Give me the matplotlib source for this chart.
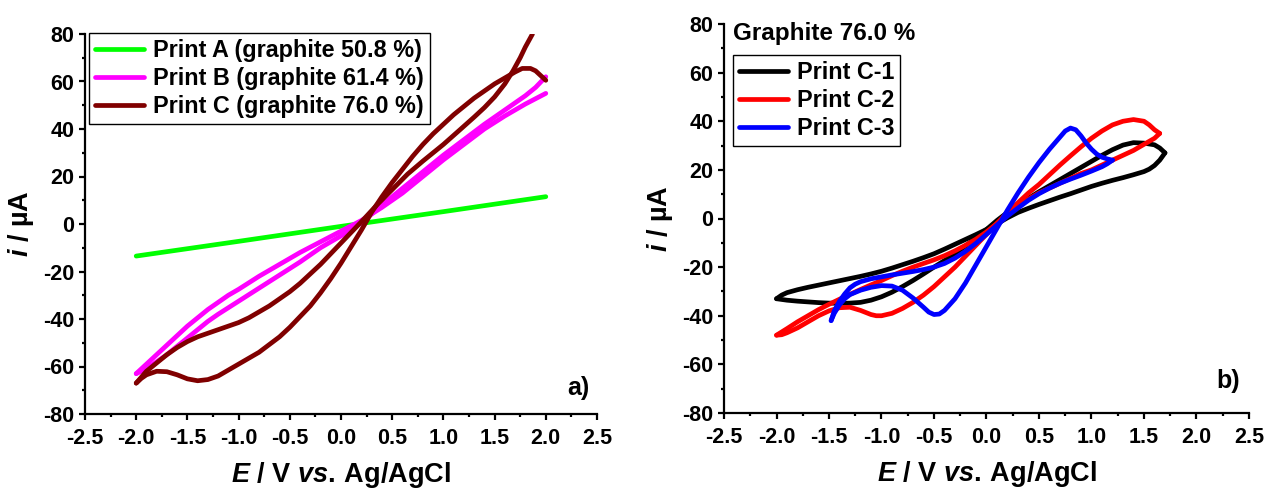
import matplotlib
matplotlib.use("Agg")
import matplotlib.pyplot as plt
from matplotlib.ticker import MultipleLocator, FormatStrFormatter

plt.rcParams['font.family'] = ['Liberation Sans', 'DejaVu Sans']
plt.rcParams['font.weight'] = 'bold'
plt.rcParams['axes.unicode_minus'] = False
plt.rcParams['mathtext.fontset'] = 'custom'
plt.rcParams['mathtext.it'] = 'Liberation Sans:italic:bold'
plt.rcParams['mathtext.rm'] = 'Liberation Sans:bold'
plt.rcParams['mathtext.bf'] = 'Liberation Sans:bold'

# ---------------- Panel a) data ----------------
E_A = [-2.0, -1.0, 0.0, 1.0, 2.0]
i_A = [-13.5, -7.3, -1.0, 5.2, 11.5]

E_B1 = [-2.0, -1.9, -1.8, -1.7, -1.6, -1.5, -1.4, -1.3, -1.2, -1.1, -1.0, -0.8, -0.6, -0.4, -0.2, 0.0,
        0.2, 0.4, 0.6, 0.8, 1.0, 1.2, 1.4, 1.6, 1.8, 2.0]
i_B1 = [-63, -59, -55, -51, -47, -43, -39.5, -36, -33, -30, -27.5, -22, -17, -12, -7.5, -3,
        1.5, 7, 13, 20, 27, 33.5, 40, 45.5, 50.5, 55]
E_B2 = [-2.0, -1.9, -1.8, -1.7, -1.6, -1.5, -1.4, -1.3, -1.2, -1.0, -0.8, -0.6, -0.4, -0.2, 0.0,
        0.2, 0.4, 0.6, 0.8, 1.0, 1.2, 1.4, 1.6, 1.7, 1.8, 1.9, 2.0]
i_B2 = [-63, -61, -58, -55, -51.5, -48, -44.5, -41, -38, -32.5, -27, -21.5, -16, -10, -5,
        0.5, 8, 15, 22, 29, 35.5, 42, 48, 51, 54, 57.5, 62]

E_C1 = [-2.0, -1.95, -1.9, -1.8, -1.7, -1.6, -1.5, -1.4, -1.3, -1.2, -1.1, -1.0, -0.8, -0.6, -0.5,
        -0.4, -0.3, -0.2, -0.1, 0.0, 0.1, 0.2, 0.3, 0.4, 0.5, 0.6, 0.7, 0.8, 0.9, 1.0, 1.1, 1.2,
        1.3, 1.4, 1.5, 1.6, 1.7, 1.77, 1.85, 1.9, 1.95, 2.0]
i_C1 = [-67, -65, -63.5, -62, -62.2, -63.5, -65.2, -66, -65.5, -64, -61.5, -59, -54, -47.5, -43.5,
        -39, -34.5, -29, -23, -16.5, -9.5, -2.5, 5, 11.5, 17.5, 23, 28.5, 33.5, 38, 42, 46, 49.5,
        53, 56, 59, 61.5, 64, 65.5, 65.5, 64.5, 62.5, 60.5]
E_C2 = [-2.0, -1.9, -1.8, -1.7, -1.6, -1.5, -1.4, -1.3, -1.2, -1.1, -1.0, -0.9, -0.8, -0.7, -0.6,
        -0.5, -0.4, -0.3, -0.2, -0.1, 0.0, 0.1, 0.2, 0.35, 0.5, 0.65, 0.8, 1.0, 1.17, 1.3, 1.4,
        1.5, 1.6, 1.68, 1.75, 1.8, 1.87]
i_C2 = [-67, -62, -58.5, -55, -52, -49.5, -47.5, -46, -44.5, -43, -41.5, -39.5, -37, -34.5, -31.5,
        -28.5, -25, -21, -17, -12.5, -8, -3.5, 1, 8, 14.5, 21, 26.5, 33.5, 40, 45, 49,
        53.5, 59, 64.5, 70, 74.5, 80]

# ---------------- Panel b) data ----------------
E_K1 = [-2.0, -1.95, -1.9, -1.8, -1.7, -1.6, -1.5, -1.4, -1.3, -1.2, -1.1, -1.0, -0.9, -0.8, -0.7,
        -0.6, -0.5, -0.4, -0.3, -0.2, -0.1, 0.0, 0.1, 0.2, 0.3, 0.4, 0.5, 0.6, 0.7, 0.8, 0.9,
        1.0, 1.1, 1.2, 1.3, 1.4, 1.5, 1.55, 1.6, 1.65, 1.7]
i_K1 = [-33, -31.5, -30.5, -29.3, -28.3, -27.4, -26.5, -25.6, -24.7, -23.8, -22.8, -21.7, -20.4, -19, -17.6,
        -16.1, -14.5, -12.6, -10.6, -8.6, -6.6, -4.5, -2.2, 0.3, 2.5, 4.2, 5.8, 7.3, 8.8, 10.2, 11.7,
        13.2, 14.5, 15.7, 16.8, 18, 19.3, 20.3, 21.8, 24, 27]
E_K2 = [1.7, 1.65, 1.6, 1.5, 1.4, 1.3, 1.2, 1.1, 1.0, 0.9, 0.8, 0.7, 0.6, 0.5, 0.4, 0.3, 0.2, 0.1,
        0.0, -0.1, -0.2, -0.3, -0.4, -0.5, -0.6, -0.7, -0.8, -0.9, -1.0, -1.1, -1.2, -1.3, -1.4,
        -1.5, -1.6, -1.7, -1.8, -1.9, -1.95, -2.0]
i_K2 = [27, 29, 30.3, 31, 31.2, 30.2, 28.3, 26, 23.5, 21, 18.5, 16, 13.5, 11, 8.3, 5.5, 2.5, -0.8,
        -4.5, -8, -11.3, -14.5, -17.3, -20, -22.8, -25.5, -28, -30.3, -32.2, -33.6, -34.5, -34.8, -34.9,
        -34.8, -34.6, -34.3, -34, -33.6, -33.3, -33]

E_R1 = [-2.0, -1.95, -1.9, -1.8, -1.7, -1.6, -1.5, -1.4, -1.3, -1.2, -1.1, -1.05, -1.0, -0.9, -0.8,
        -0.7, -0.6, -0.5, -0.4, -0.3, -0.2, -0.1, 0.0, 0.1, 0.2, 0.3, 0.4, 0.5, 0.6, 0.7, 0.8,
        0.9, 1.0, 1.1, 1.2, 1.3, 1.4, 1.5, 1.55, 1.6, 1.65]
i_R1 = [-48, -47.8, -47, -45, -42.5, -40, -38, -36.7, -36.5, -37.8, -39.5, -40, -40, -39, -37,
        -34.5, -31.5, -28, -24, -20, -15.5, -11, -6.5, -2, 2.5, 6.5, 10.5, 14, 18, 22, 25.8,
        29.5, 33, 36, 38.5, 40, 40.7, 40, 38.5, 36.5, 35]
E_R2 = [1.65, 1.6, 1.5, 1.4, 1.3, 1.2, 1.1, 1.0, 0.9, 0.8, 0.7, 0.6, 0.5, 0.4, 0.3, 0.2, 0.1, 0.0,
        -0.1, -0.2, -0.3, -0.4, -0.5, -0.6, -0.7, -0.8, -0.9, -1.0, -1.1, -1.2, -1.3, -1.4, -1.5,
        -1.6, -1.7, -1.8, -1.9, -2.0]
i_R2 = [35, 33, 30.5, 28, 26, 24, 22, 20, 18.5, 16.5, 14.5, 12.5, 10.5, 8, 5, 1.5, -2, -5.5,
        -8.5, -11, -13.3, -15.3, -17, -18.5, -20, -21.7, -23.5, -25.5, -27.3, -29.2, -31.2, -33.2, -35.3,
        -37.5, -40, -42.5, -45.3, -48]

E_L1 = [-1.48, -1.45, -1.4, -1.35, -1.3, -1.2, -1.1, -1.0, -0.9, -0.8, -0.7, -0.6, -0.55, -0.5, -0.45,
        -0.4, -0.3, -0.2, -0.1, 0.0, 0.1, 0.2, 0.3, 0.4, 0.5, 0.6, 0.7, 0.75, 0.8, 0.85, 0.9,
        0.95, 1.0, 1.05, 1.1, 1.15, 1.2]
i_L1 = [-42, -39, -35.5, -33, -31.3, -29.5, -28.3, -27.6, -27.8, -29.5, -32.7, -36.5, -38.5, -39.5, -39.3,
        -37.8, -33, -26.5, -19, -11.5, -4, 3.5, 10.5, 17, 23, 28.5, 33.5, 36, 37.2, 36.5, 34,
        31, 28.5, 26.5, 25.2, 24.5, 24]
E_L2 = [1.2, 1.15, 1.1, 1.0, 0.9, 0.8, 0.7, 0.6, 0.5, 0.4, 0.3, 0.2, 0.1, 0.0, -0.1, -0.2, -0.3,
        -0.4, -0.5, -0.6, -0.7, -0.8, -0.9, -1.0, -1.1, -1.2, -1.25, -1.3, -1.35, -1.4, -1.45, -1.48]
i_L2 = [24, 22.5, 21.3, 19.5, 17.8, 16.2, 14.5, 12.5, 10.2, 7.5, 4.3, 1, -2.7, -6.5, -10.2, -13.5, -16.3,
        -18.5, -20, -21, -21.8, -22.5, -23.2, -24, -24.8, -26, -27, -28.5, -31, -34, -38, -42]

labels_a = ['Print A (graphite 50.8 %)', 'Print B (graphite 61.4 %)', 'Print C (graphite 76.0 %)']
labels_b = ['Print C-1', 'Print C-2', 'Print C-3']
colors_a = ['#00ff00', '#ff00ff', '#800000']
colors_b = ['#000000', '#ff0000', '#0000ff']

LW = 3.4
W, H = 1267, 493
fig = plt.figure(figsize=(W / 100, H / 100), dpi=100)
axA = fig.add_axes([85 / W, (H - 414) / H, 512 / W, 380 / H])
axB = fig.add_axes([724 / W, (H - 413) / H, 525 / W, 389 / H])

kw = dict(lw=LW, solid_capstyle='round', solid_joinstyle='round')
hA, = axA.plot(E_A, i_A, color=colors_a[0], **kw)
hB, = axA.plot(E_B1, i_B1, color=colors_a[1], **kw)
axA.plot(E_B2, i_B2, color=colors_a[1], **kw)
hC, = axA.plot(E_C1, i_C1, color=colors_a[2], **kw)
axA.plot(E_C2, i_C2, color=colors_a[2], **kw)

hK, = axB.plot(E_K1, i_K1, color=colors_b[0], **kw)
axB.plot(E_K2, i_K2, color=colors_b[0], **kw)
hR, = axB.plot(E_R1, i_R1, color=colors_b[1], **kw)
axB.plot(E_R2, i_R2, color=colors_b[1], **kw)
hL, = axB.plot(E_L1, i_L1, color=colors_b[2], **kw)
axB.plot(E_L2, i_L2, color=colors_b[2], **kw)

for ax in (axA, axB):
    ax.set_xlim(-2.5, 2.5)
    ax.set_ylim(-80, 80)
    ax.xaxis.set_major_locator(MultipleLocator(0.5))
    ax.xaxis.set_minor_locator(MultipleLocator(0.25))
    ax.yaxis.set_major_locator(MultipleLocator(20))
    ax.yaxis.set_minor_locator(MultipleLocator(10))
    ax.xaxis.set_major_formatter(FormatStrFormatter('%.1f'))
    ax.spines['top'].set_visible(False)
    ax.spines['right'].set_visible(False)
    for s in ('left', 'bottom'):
        ax.spines[s].set_linewidth(1.6)
    ax.tick_params(which='major', direction='out', length=4, width=1.6, labelsize=15.5)
    ax.tick_params(axis='x', which='major', pad=6)
    ax.tick_params(which='minor', direction='out', length=2.5, width=1.6)
    for lab in ax.get_xticklabels() + ax.get_yticklabels():
        lab.set_fontweight('bold')
    ax.set_xlabel(r'$\mathit{E}$ / V $\mathit{vs.}\,$Ag/AgCl', fontsize=19.5, fontweight='bold', labelpad=8)
    ax.set_ylabel(r'$\mathit{i}$ / µA', fontsize=19.5, fontweight='bold', labelpad=5)

legA = axA.legend([hA, hB, hC], labels_a, loc='upper left', bbox_to_anchor=(0.008, 1.003),
                  borderaxespad=0, frameon=True, fancybox=False, framealpha=1,
                  edgecolor='black', handlelength=2.1, labelspacing=0.22, handletextpad=0.4,
                  borderpad=0.25, prop={'weight': 'bold', 'size': 16.8})
legA.get_frame().set_linewidth(1.0)

legB = axB.legend([hK, hR, hL], labels_b, loc='upper left', bbox_to_anchor=(0.017, 0.92),
                  borderaxespad=0, frameon=True, fancybox=False, framealpha=1,
                  edgecolor='black', handlelength=2.1, labelspacing=0.22, handletextpad=0.4,
                  borderpad=0.25, prop={'weight': 'bold', 'size': 16.8})
legB.get_frame().set_linewidth(1.0)

axB.text(0.017, 0.976, 'Graphite 76.0 %', transform=axB.transAxes, fontsize=17.5,
         fontweight='bold', ha='left', va='center')
axA.text(0.986, 0.068, 'a)', transform=axA.transAxes, fontsize=18, fontweight='bold',
         ha='right', va='center')
axB.text(0.983, 0.082, 'b)', transform=axB.transAxes, fontsize=18, fontweight='bold',
         ha='right', va='center')

fig.savefig('out.png', dpi=100)
